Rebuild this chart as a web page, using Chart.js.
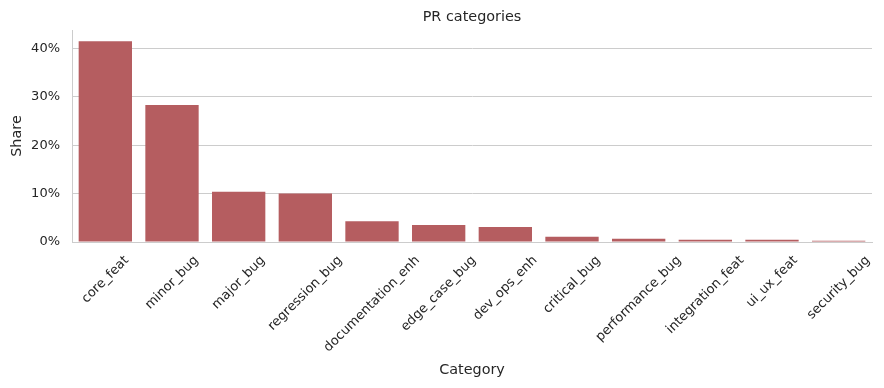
<!DOCTYPE html>
<html>
<head>
<meta charset="utf-8">
<script src="https://cdn.jsdelivr.net/npm/chart.js@4"></script>
<style>
  html, body { margin: 0; padding: 0; background: #ffffff; }
  #wrap { width: 884px; height: 388px; position: relative; }
</style>
</head>
<body>
<div id="wrap"><canvas id="c"></canvas></div>
<script>
const categories = ["core_feat", "minor_bug", "major_bug", "regression_bug", "documentation_enh", "edge_case_bug", "dev_ops_enh", "critical_bug", "performance_bug", "integration_feat", "ui_ux_feat", "security_bug"];
const shareValues = [41.5, 28.3, 10.4, 10.0, 4.3, 3.5, 3.1, 1.1, 0.65, 0.45, 0.45, 0.25];
const yTickValues = [0, 10, 20, 30, 40];
const chartTitle = "PR categories";
const xAxisTitle = "Category";
const yAxisTitle = "Share";

const FONT = "'DejaVu Sans', sans-serif";
const TEXT = "#262626";
const GRID = "#cccccc";
const TICK_SIZE = 13;

const rotatedLabels = {
  id: "rotatedLabels",
  afterDraw(chart) {
    const xs = chart.scales.x;
    const ca = chart.chartArea;
    const ctx = chart.ctx;
    ctx.save();
    // title centred over the plot area
    ctx.font = "14.4px " + FONT;
    ctx.fillStyle = TEXT;
    ctx.textAlign = "center";
    ctx.textBaseline = "middle";
    ctx.fillText(chartTitle, (ca.left + ca.right) / 2, 17);
    // rotated category labels, centred on their ticks
    ctx.font = TICK_SIZE + "px " + FONT;
    const top = xs.top + 11;
    const h = TICK_SIZE * 1.17;
    categories.forEach((lab, i) => {
      const x = xs.getPixelForValue(i);
      const w = ctx.measureText(lab).width;
      const cy = top + (w + h) / (2 * Math.SQRT2);
      ctx.save();
      ctx.translate(x, cy);
      ctx.rotate(-Math.PI / 4);
      ctx.fillText(lab, 0, 0);
      ctx.restore();
    });
    ctx.restore();
  }
};

new Chart(document.getElementById("c"), {
  type: "bar",
  data: {
    labels: categories,
    datasets: [{
      label: yAxisTitle,
      data: shareValues,
      backgroundColor: "#b55d60",
      borderWidth: 0,
      categoryPercentage: 0.8,
      barPercentage: 1.0
    }]
  },
  options: {
    responsive: true,
    maintainAspectRatio: false,
    animation: false,
    devicePixelRatio: 1,
    layout: { padding: { left: 0, right: 12, top: 30, bottom: 0 } },
    plugins: {
      legend: { display: false },
      tooltip: { enabled: false },
      title: { display: false }
    },
    scales: {
      x: {
        type: "category",
        grid: { display: false, drawTicks: false },
        border: { display: true, color: GRID, width: 1 },
        ticks: { display: false },
        title: {
          display: true,
          text: xAxisTitle,
          color: TEXT,
          font: { family: FONT, size: 14.4, lineHeight: 1.2 },
          padding: { top: 9, bottom: 9 }
        },
        afterFit(scale) { scale.height = 146; }
      },
      y: {
        min: 0,
        max: 43.8,
        grid: { color: GRID, lineWidth: 1, drawTicks: false },
        border: { display: true, color: GRID, width: 1 },
        afterBuildTicks(scale) { scale.ticks = yTickValues.map(v => ({ value: v })); },
        ticks: {
          color: TEXT,
          font: { family: FONT, size: TICK_SIZE },
          padding: 12,
          callback: v => v + "%"
        },
        title: {
          display: true,
          text: yAxisTitle,
          color: TEXT,
          font: { family: FONT, size: 14.4, lineHeight: 1.2 },
          padding: { top: 9, bottom: 9 }
        },
        afterFit(scale) { scale.width = 72; }
      }
    }
  },
  plugins: [rotatedLabels]
});
</script>
</body>
</html>
